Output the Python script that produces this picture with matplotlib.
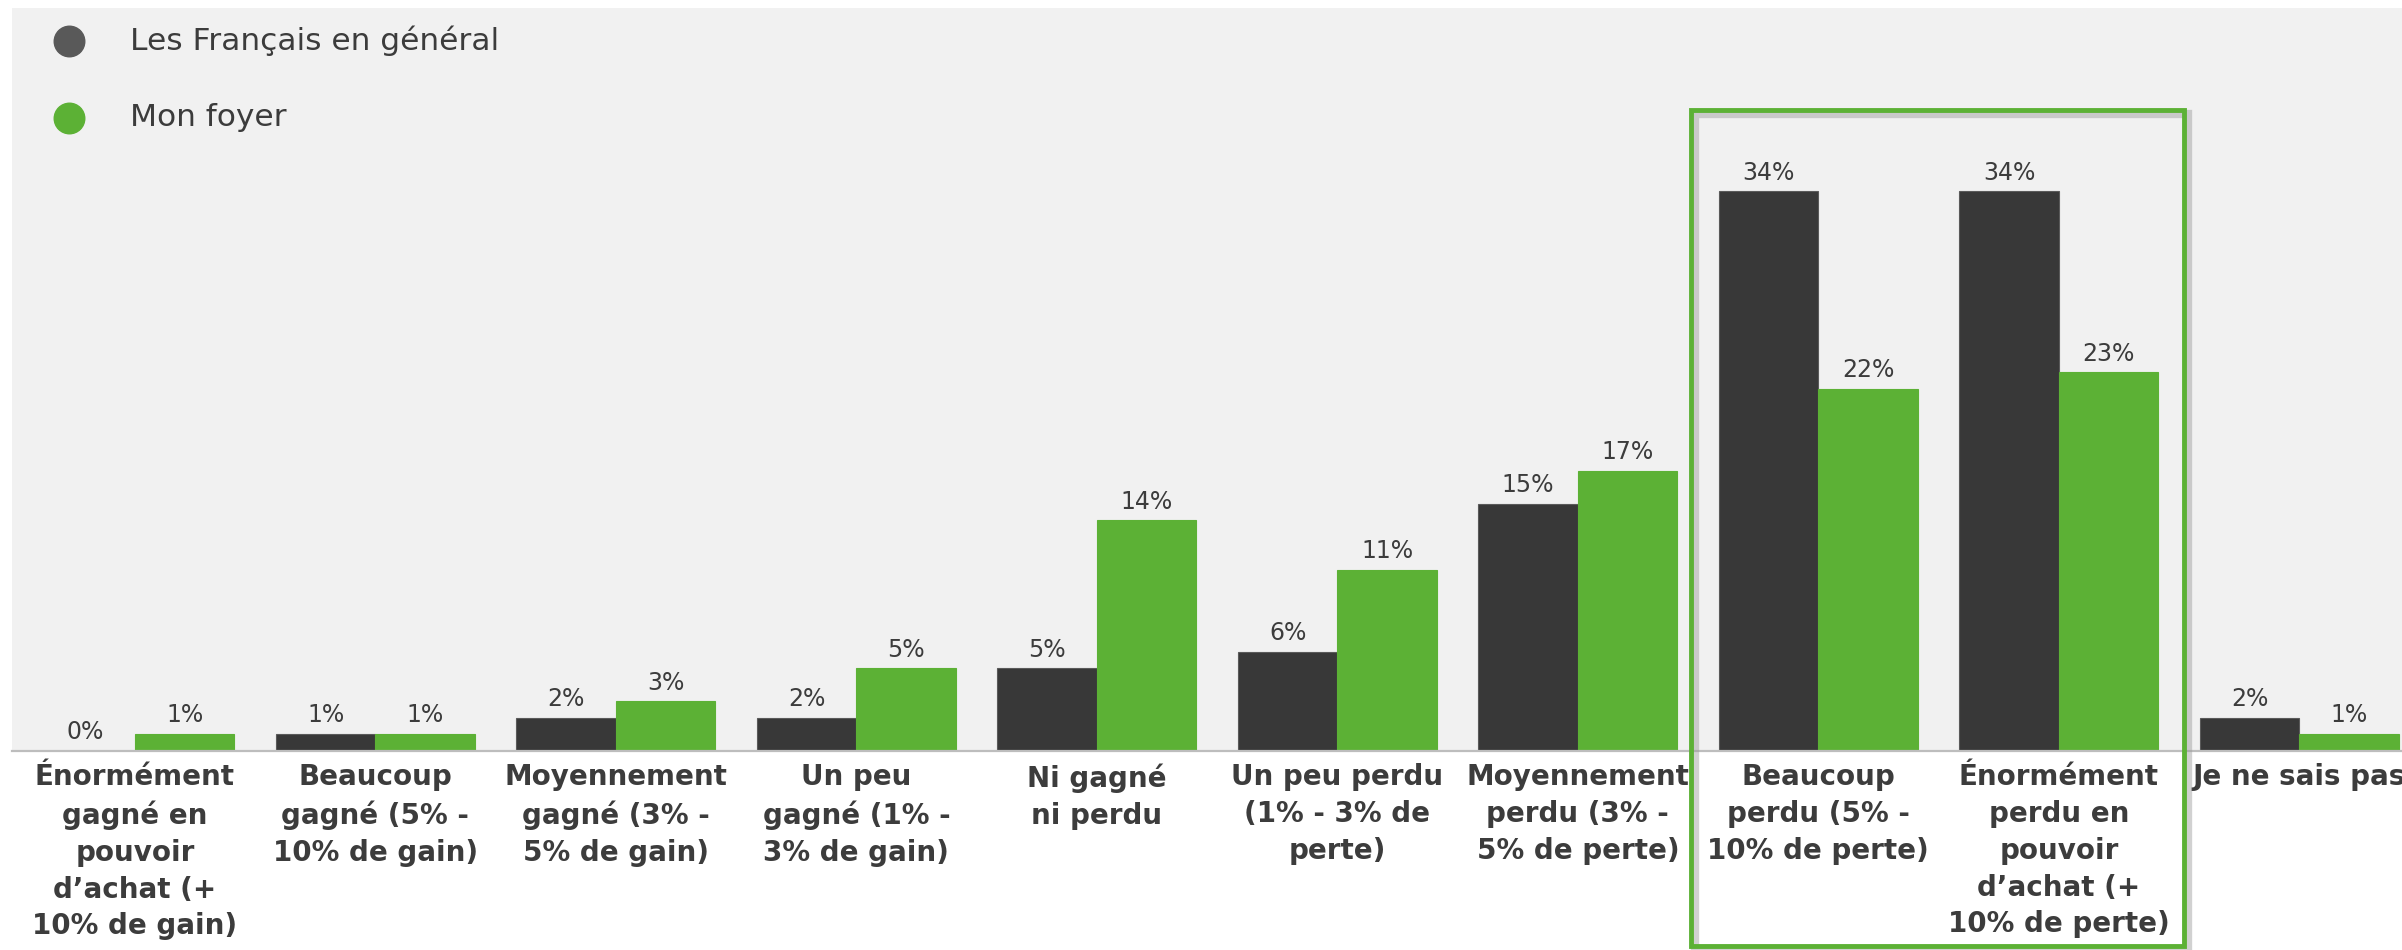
import matplotlib
matplotlib.use("Agg")
import matplotlib.pyplot as plt
from matplotlib.patches import Rectangle
from matplotlib.transforms import blended_transform_factory, offset_copy

# ---- data ----
categories = [
    "Énormément\ngagné en\npouvoir\nd’achat (+\n10% de gain)",
    "Beaucoup\ngagné (5% -\n10% de gain)",
    "Moyennement\ngagné (3% -\n5% de gain)",
    "Un peu\ngagné (1% -\n3% de gain)",
    "Ni gagné\nni perdu",
    "Un peu perdu\n(1% - 3% de\nperte)",
    "Moyennement\nperdu (3% -\n5% de perte)",
    "Beaucoup\nperdu (5% -\n10% de perte)",
    "Énormément\nperdu en\npouvoir\nd’achat (+\n10% de perte)",
    "Je ne sais pas",
]
series_names = ["Les Français en général", "Mon foyer"]
francais = [0, 1, 2, 2, 5, 6, 15, 34, 34, 2]
foyer = [1, 1, 3, 5, 14, 11, 17, 22, 23, 1]
highlight = [7, 8]

# ---- style ----
DARK = "#383838"
GREEN = "#5cb135"
TEXT = "#3c3c3c"
BG = "#f1f1f1"

W, H = 2402, 950
fig = plt.figure(figsize=(W / 100, H / 100), dpi=100)
fig.patch.set_facecolor("white")

ax_left, ax_top_px, base_px = 12, 8, 750.7
ax = fig.add_axes([ax_left / W, 1 - base_px / H, 1 - ax_left / W, (base_px - ax_top_px) / H])
ax.set_facecolor(BG)
for s in ax.spines.values():
    s.set_visible(False)
ax.set_xticks([])
ax.set_yticks([])

n = len(categories)
x = list(range(n))
bw = 0.414
ax.bar([i - bw / 2 for i in x], francais, width=bw, color=DARK, edgecolor="#5a5a5a", linewidth=0.8, zorder=2)
ax.bar([i + bw / 2 for i in x], foyer, width=bw, color=GREEN, edgecolor=GREEN, linewidth=0.8, zorder=2)

ax.set_xlim(-0.511, 9.427)
ax.set_ylim(0, 45.15)
ax.axhline(0, color="#bdbdbd", lw=1.6, zorder=3, clip_on=False)

for i in x:
    for dx, v in ((-bw / 2, francais[i]), (bw / 2, foyer[i])):
        ax.annotate(f"{v}%", xy=(i + dx, v), xytext=(0, 8.5), textcoords="offset points",
                    ha="center", va="baseline", fontsize=17, color=TEXT, zorder=4)
    ax.annotate(categories[i], xy=(i, 0), xycoords=("data", "axes fraction"),
                xytext=(0, -9), textcoords="offset points", ha="center", va="top",
                multialignment="center", fontsize=20, fontweight="bold", color=TEXT,
                linespacing=1.4, annotation_clip=False)

# ---- legend ----
leg_y = [41, 118]
for (name, col, yp) in zip(series_names, ["#595959", GREEN], leg_y):
    fig.add_artist(plt.Line2D([69 / W], [1 - yp / H], marker="o", markersize=22,
                              color=col, linestyle="none", transform=fig.transFigure))
    fig.text(130 / W, 1 - yp / H, name, fontsize=22.5, color=TEXT, va="center", ha="left")

# ---- highlight box ----
trans = blended_transform_factory(ax.transData, fig.transFigure)
x0 = highlight[0] - 0.53
x1 = highlight[1] + 0.52
y0 = 4 / H
y1 = 1 - 110 / H
shadow = Rectangle((x0, y0), x1 - x0, y1 - y0, fill=False, edgecolor="#9a9a9a",
                   alpha=0.45, linewidth=6,
                   transform=offset_copy(trans, fig=fig, x=4, y=-4, units="dots"),
                   clip_on=False, zorder=5)
fig.add_artist(shadow)
box = Rectangle((x0, y0), x1 - x0, y1 - y0, fill=False, edgecolor=GREEN, linewidth=3.5,
                transform=trans, clip_on=False, zorder=6)
fig.add_artist(box)

fig.savefig("out.png", dpi=100, facecolor="white")
